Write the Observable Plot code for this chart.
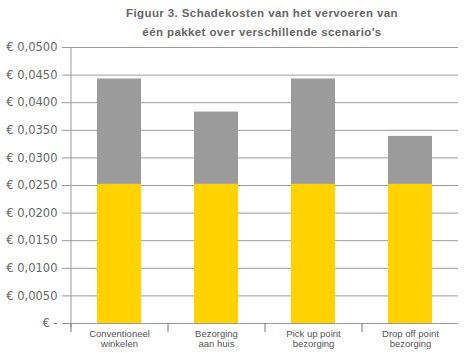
<!DOCTYPE html>
<html>
<head>
<meta charset="utf-8">
<script src="https://cdn.jsdelivr.net/npm/d3@7"></script>
<script src="https://cdn.jsdelivr.net/npm/@observablehq/plot@0.6"></script>
<style>
  html, body { margin: 0; padding: 0; background: #fff; }
  #title { width: 464px; height: 40px; box-sizing: border-box; padding-top: 4px; padding-left: 60px;
    text-align: center; font-family: "Liberation Sans", Arial, sans-serif; font-weight: bold;
    font-size: 11.5px; line-height: 19px; color: #666; letter-spacing: 0.4px; }
  #chart svg { display: block; }
</style>
</head>
<body>
<div id="title">Figuur 3. Schadekosten van het vervoeren van<br>één pakket over verschillende scenario's</div>
<div id="chart"></div>
<script>
const categories = ["Conventioneel\nwinkelen", "Bezorging\naan huis", "Pick up point\nbezorging", "Drop off point\nbezorging"];
const seriesNames = ["basis", "extra"];
const baseCost = [0.0252, 0.0252, 0.0252, 0.0252];
const extraCost = [0.0191, 0.0131, 0.0191, 0.0087];
const yTicks = [0, 0.005, 0.01, 0.015, 0.02, 0.025, 0.03, 0.035, 0.04, 0.045, 0.05];

const rows = [];
categories.forEach((c, i) => {
  rows.push({cat: c, series: seriesNames[0], value: baseCost[i]});
  rows.push({cat: c, series: seriesNames[1], value: extraCost[i]});
});

const W = 464, H = 313, mL = 70, mR = 6, mT = 7, mB = 30;
const step = (W - mL - mR) / categories.length;

const fmt = d => d === 0 ? "€ -" : "€ " + d.toFixed(4).replace(".", ",");

const chart = Plot.plot({
  width: W, height: H,
  marginLeft: mL, marginRight: mR, marginTop: mT, marginBottom: mB,
  style: {fontFamily: "DejaVu Sans, sans-serif", background: "#fff"},
  x: {domain: categories, padding: 0.55, paddingOuter: 0.275},
  y: {domain: [0, 0.05]},
  color: {domain: seriesNames, range: ["#FFD200", "#9B9B9B"]},
  marks: [
    Plot.ruleY(yTicks, {stroke: "#9a9a9a", strokeWidth: 1}),
    Plot.barY(rows, {x: "cat", y: "value", fill: "series"}),
    Plot.ruleX([categories[0]], {x: d => d, dx: -step / 2, y1: 0.05, y2: 0, insetBottom: -4, stroke: "#9a9a9a"}),
    Plot.ruleX(categories, {x: d => d, dx: -step / 2, y1: 0, y2: 0, insetBottom: -9, stroke: "#777"}),
    Plot.axisY({ticks: yTicks, tickSize: 8, tickPadding: 5, tickFormat: fmt, stroke: "#9a9a9a", fill: "#666", fontSize: 11.5, label: null}),
    Plot.axisX({tickSize: 0, tickPadding: 6, fontSize: 9.5, fill: "#555", label: null, fontFamily: "Liberation Sans, Arial, sans-serif", lineHeight: 1.05})
  ]
});
document.getElementById("chart").appendChild(chart);
</script>
</body>
</html>
